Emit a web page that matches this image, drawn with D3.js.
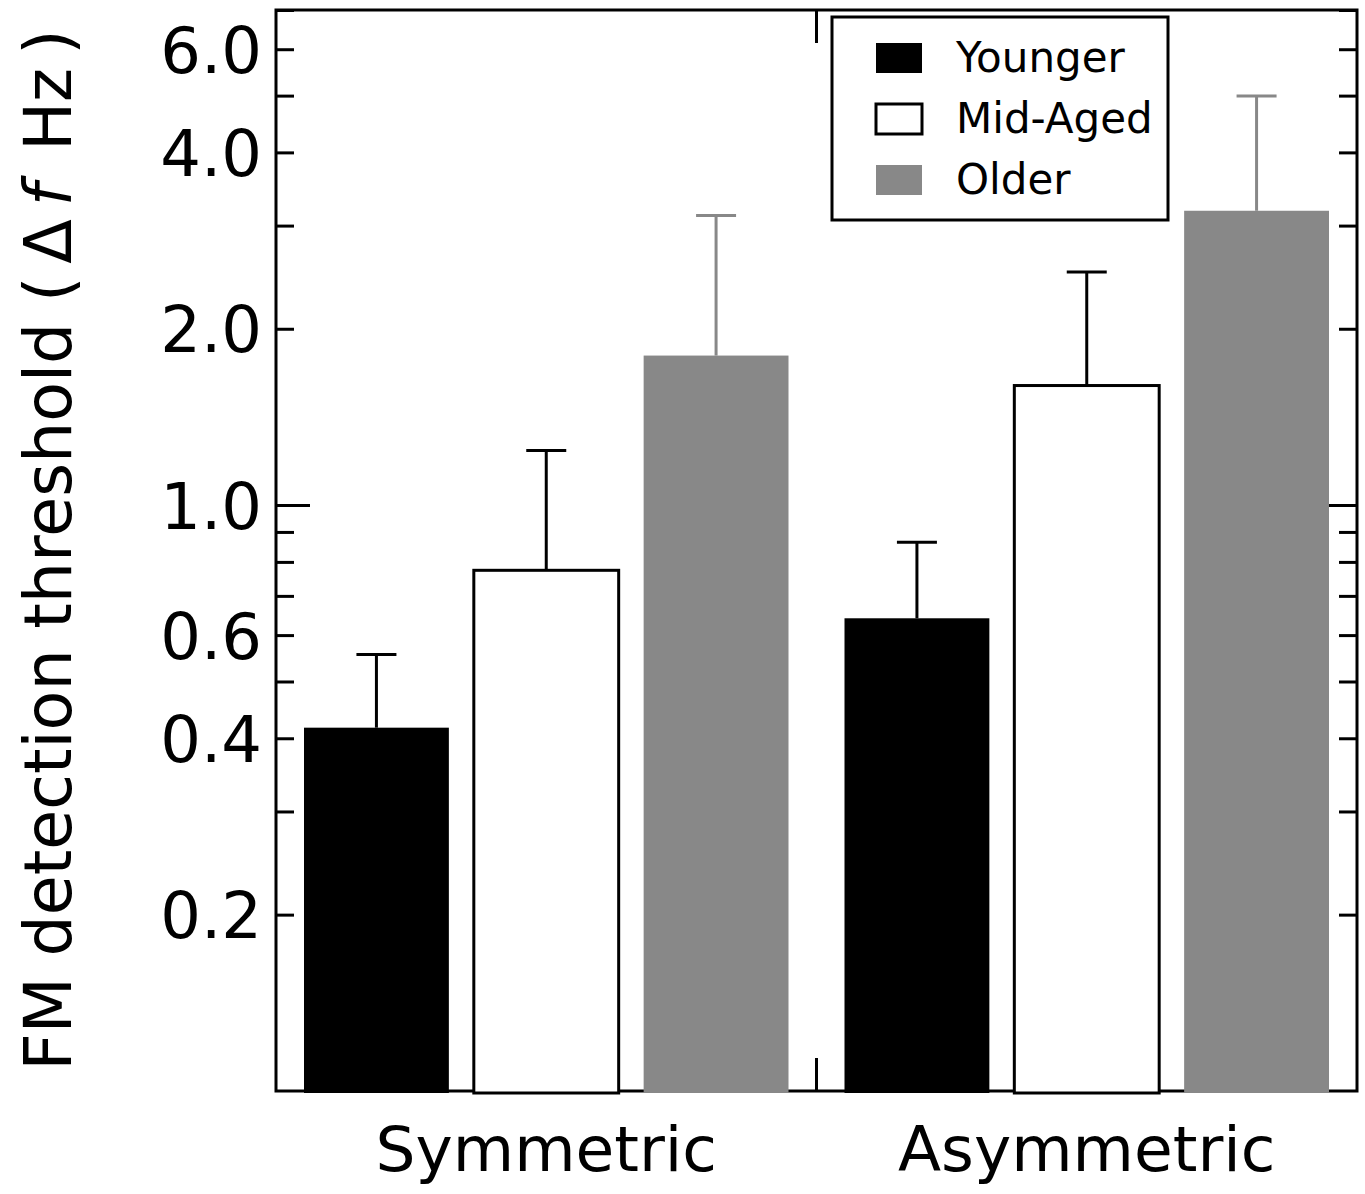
<!DOCTYPE html>
<html>
<head>
<meta charset="utf-8">
<script src="https://cdn.jsdelivr.net/npm/d3@7"></script>
<style>
  body { margin: 0; background: #fff; }
  text { font-family: "DejaVu Sans", "Noto Sans", sans-serif; fill: #000; }
</style>
</head>
<body>
<svg id="chart"></svg>
<script>
var groups = ["Symmetric", "Asymmetric"];
var ages = ["Younger", "Mid-Aged", "Older"];
var means = [[0.417, 0.774, 1.80], [0.641, 1.60, 3.18]];
var upper = [[0.556, 1.24, 3.12], [0.864, 2.50, 4.99]];
var tickLabels = [0.2, 0.4, 0.6, 1.0, 2.0, 4.0, 6.0];
var minorTicks = [0.2, 0.3, 0.4, 0.5, 0.6, 0.7, 0.8, 0.9, 2, 3, 4, 5, 6, 7];
var majorTicks = [1];

var fills = {"Younger": "#000", "Mid-Aged": "#fff", "Older": "#888"};
var errColor = {"Younger": "#000", "Mid-Aged": "#000", "Older": "#888"};

var W = 1365, H = 1194;
var margin = {top: 10, right: 8, bottom: 103, left: 276};
var w = W - margin.left - margin.right;
var h = H - margin.top - margin.bottom;

var svg = d3.select("#chart").attr("width", W).attr("height", H);
var g = svg.append("g").attr("transform", "translate(" + margin.left + "," + margin.top + ")");

var y = d3.scaleLog().domain([0.1, 7]).range([h, 0]);
var x0 = d3.scaleBand().domain(groups).range([0, w]);
var x1 = d3.scaleBand().domain(ages).range([28, x0.bandwidth() - 28]).paddingInner(0.147);

var data = [];
groups.forEach(function(gr, i){
  ages.forEach(function(a, j){
    data.push({group: gr, age: a, v: means[i][j], hi: upper[i][j]});
  });
});

// frame
g.append("rect").attr("width", w).attr("height", h)
  .attr("fill", "none").attr("stroke", "#000").attr("stroke-width", 3);

// ticks on both sides, pointing inward
function tickSide(side){
  var minor = side === "left" ? d3.axisLeft(y) : d3.axisRight(y);
  minor.tickValues(minorTicks).tickSizeInner(-18).tickSizeOuter(0).tickFormat("");
  var gm = g.append("g").attr("transform", side === "left" ? null : "translate(" + w + ",0)").call(minor);
  var major = side === "left" ? d3.axisLeft(y) : d3.axisRight(y);
  major.tickValues(majorTicks).tickSizeInner(-34).tickSizeOuter(0).tickFormat("");
  var gM = g.append("g").attr("transform", side === "left" ? null : "translate(" + w + ",0)").call(major);
  [gm, gM].forEach(function(s){
    s.select(".domain").remove();
    s.selectAll("line").attr("stroke", "#000").attr("stroke-width", 3);
  });
}
tickSide("left");
tickSide("right");

// tick labels
var labelAxis = d3.axisLeft(y).tickValues(tickLabels).tickSize(0).tickPadding(14)
  .tickFormat(d3.format(".1f"));
var gl = g.append("g").call(labelAxis);
gl.select(".domain").remove();
gl.selectAll("text").attr("font-size", 64).attr("dy", "0.36em")
  .style("font-family", "'DejaVu Sans', sans-serif");

// middle x ticks
var midX = x0("Asymmetric");
g.append("line").attr("x1", midX).attr("x2", midX).attr("y1", 0).attr("y2", 33)
  .attr("stroke", "#000").attr("stroke-width", 3);
g.append("line").attr("x1", midX).attr("x2", midX).attr("y1", h).attr("y2", h - 33)
  .attr("stroke", "#000").attr("stroke-width", 3);

// error bars
var cap = 20;
data.forEach(function(d){
  var cx = x0(d.group) + x1(d.age) + x1.bandwidth() / 2;
  g.append("line").attr("x1", cx).attr("x2", cx).attr("y1", y(d.v)).attr("y2", y(d.hi))
    .attr("stroke", errColor[d.age]).attr("stroke-width", 3);
  g.append("line").attr("x1", cx - cap).attr("x2", cx + cap).attr("y1", y(d.hi)).attr("y2", y(d.hi))
    .attr("stroke", errColor[d.age]).attr("stroke-width", 3);
});

// bars
g.selectAll("rect.bar").data(data).enter().append("rect")
  .attr("class", "bar")
  .attr("x", function(d){ return x0(d.group) + x1(d.age); })
  .attr("y", function(d){ return y(d.v); })
  .attr("width", x1.bandwidth())
  .attr("height", function(d){ return h + 2 - y(d.v); })
  .attr("fill", function(d){ return fills[d.age]; })
  .attr("stroke", function(d){ return d.age === "Mid-Aged" ? "#000" : "none"; })
  .attr("stroke-width", 3);

// x labels
g.selectAll("text.xl").data(groups).enter().append("text")
  .attr("class", "xl")
  .attr("x", function(d){ return x0(d) + x0.bandwidth() / 2; })
  .attr("y", h + 80)
  .attr("text-anchor", "middle")
  .attr("font-size", 63)
  .text(function(d){ return d; });

// y label
var yl = svg.append("text")
  .attr("transform", "translate(71,550) rotate(-90)")
  .attr("text-anchor", "middle")
  .attr("font-size", 65);
yl.append("tspan").text("FM detection threshold (\u2009\u0394");
yl.append("tspan").attr("font-style", "italic").text("\u2009f");
yl.append("tspan").text("\u2002Hz\u2009)");

// legend
var lg = svg.append("g").attr("transform", "translate(832,17)");
lg.append("rect").attr("width", 336).attr("height", 203)
  .attr("fill", "#fff").attr("stroke", "#000").attr("stroke-width", 3);
ages.forEach(function(a, i){
  var yy = 26 + i * 61;
  lg.append("rect").attr("x", 44).attr("y", yy).attr("width", 46).attr("height", 30)
    .attr("fill", fills[a]).attr("stroke", a === "Mid-Aged" ? "#000" : "none").attr("stroke-width", 3);
  lg.append("text").attr("x", 124).attr("y", yy + 29).attr("font-size", 42).text(a);
});
</script>
</body>
</html>
